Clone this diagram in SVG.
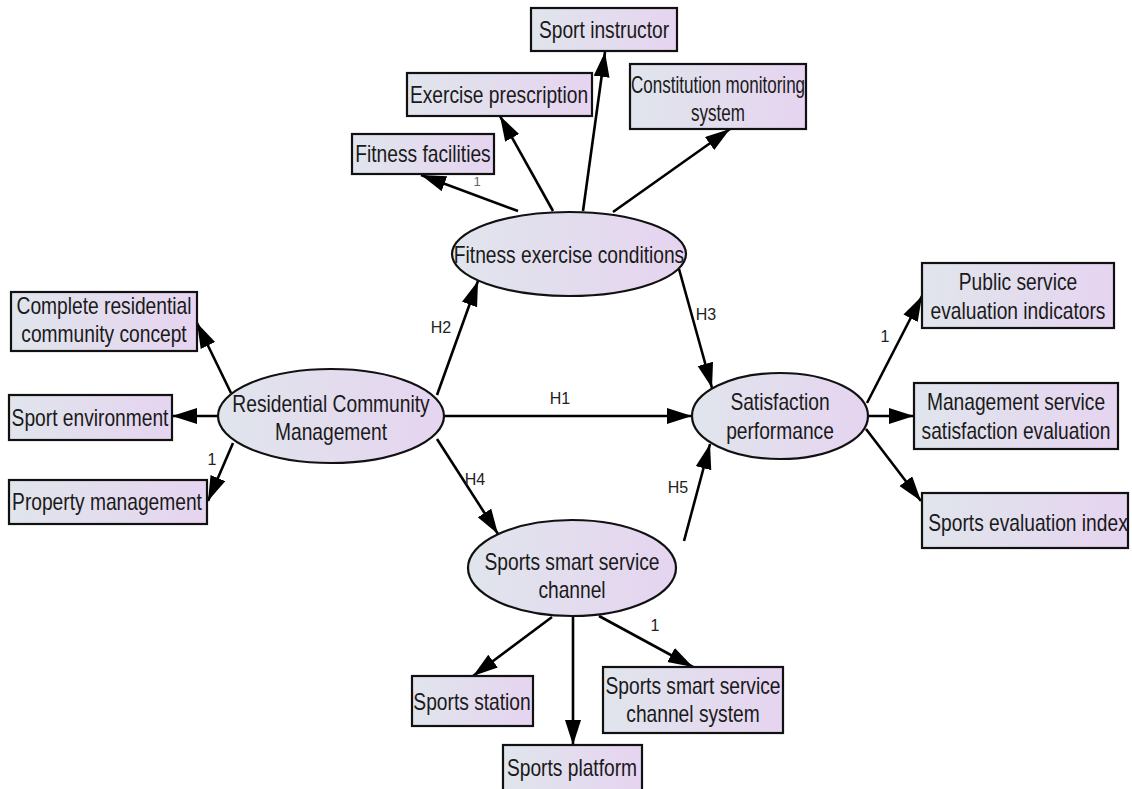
<svg xmlns="http://www.w3.org/2000/svg" width="1132" height="789" viewBox="0 0 1132 789">
<style>
.box{fill:url(#g);stroke:#111;stroke-width:2.2}
.ell{fill:url(#g);stroke:#111;stroke-width:2.2}
.t{font-family:"Liberation Sans",Arial,sans-serif;font-size:24px;fill:#1a1a1a;text-anchor:middle}
.lbl{font-family:"Liberation Sans",Arial,sans-serif;font-size:16px;fill:#222;text-anchor:middle}
.c line{stroke:#000;stroke-width:2.6;marker-end:url(#ah)}
</style>
<defs>
<linearGradient id="g" x1="0" y1="0" x2="1" y2="0">
<stop offset="0" stop-color="#e0e5ec"/>
<stop offset="1" stop-color="#e6d4f0"/>
</linearGradient>
<marker id="ah" markerUnits="userSpaceOnUse" markerWidth="28" markerHeight="18" refX="25" refY="8" orient="auto">
<path d="M0,0 L25,8 L0,16 z" fill="#000"/>
</marker>
</defs>
<rect width="1132" height="789" fill="#fff"/>
<g class="c" id="connectors">
<line x1="518" y1="211" x2="421" y2="175"/>
<line x1="553" y1="211" x2="500" y2="116"/>
<line x1="583" y1="211" x2="605" y2="52"/>
<line x1="613" y1="212" x2="730" y2="129"/>
<line x1="679" y1="269" x2="712" y2="388"/>
<line x1="445" y1="416" x2="692" y2="416"/>
<line x1="437" y1="395" x2="478" y2="281"/>
<line x1="437" y1="439" x2="498" y2="534"/>
<line x1="684" y1="541" x2="710" y2="444"/>
<line x1="231" y1="393" x2="197" y2="323"/>
<line x1="218" y1="416" x2="172" y2="416"/>
<line x1="233" y1="443" x2="208" y2="501"/>
<line x1="867" y1="403" x2="922" y2="296"/>
<line x1="868" y1="416" x2="914" y2="416"/>
<line x1="866" y1="429" x2="921" y2="501"/>
<line x1="552" y1="617" x2="473" y2="676"/>
<line x1="573" y1="617" x2="573" y2="745"/>
<line x1="599" y1="616" x2="693" y2="667"/>
</g>
<g id="labels">
<text class="lbl" x="560" y="404">H1</text>
<text class="lbl" x="441" y="333">H2</text>
<text class="lbl" x="706" y="320">H3</text>
<text class="lbl" x="475" y="485">H4</text>
<text class="lbl" x="678" y="493">H5</text>
<text class="lbl" x="477" y="186" style="fill:#666;font-size:13px">1</text>
<text class="lbl" x="885" y="342">1</text>
<text class="lbl" x="212" y="465">1</text>
<text class="lbl" x="655" y="631">1</text>
</g>
<g id="n-sport-instructor"><rect class="box" x="531" y="8" width="146" height="43"/><text class="t" transform="translate(604,38) scale(0.8,1)">Sport instructor</text></g>
<g id="n-exercise-prescription"><rect class="box" x="407" y="73" width="185" height="43"/><text class="t" transform="translate(499,103) scale(0.8,1)">Exercise prescription</text></g>
<g id="n-fitness-facilities"><rect class="box" x="352" y="134" width="142" height="40"/><text class="t" transform="translate(423,162) scale(0.8,1)">Fitness facilities</text></g>
<g id="n-constitution"><rect class="box" x="630" y="64" width="176" height="65"/><text class="t" transform="translate(718,93) scale(0.71,1)"><tspan x="0" dy="0">Constitution monitoring</tspan><tspan x="0" dy="28">system</tspan></text></g>
<g id="n-fitness-conditions"><ellipse class="ell" cx="569" cy="254" rx="117" ry="42"/><text class="t" transform="translate(569,263) scale(0.8,1)">Fitness exercise conditions</text></g>
<g id="n-complete-residential"><rect class="box" x="11" y="292" width="186" height="59"/><text class="t" transform="translate(104,314) scale(0.8,1)"><tspan x="0" dy="0">Complete residential</tspan><tspan x="0" dy="28">community concept</tspan></text></g>
<g id="n-sport-environment"><rect class="box" x="9" y="395" width="163" height="45"/><text class="t" transform="translate(90,426) scale(0.8,1)">Sport environment</text></g>
<g id="n-property-management"><rect class="box" x="9" y="480" width="198" height="44"/><text class="t" transform="translate(107,510) scale(0.8,1)">Property management</text></g>
<g id="n-rcm"><ellipse class="ell" cx="331" cy="416" rx="113" ry="47"/><text class="t" transform="translate(331,412) scale(0.8,1)"><tspan x="0" dy="0">Residential Community</tspan><tspan x="0" dy="28">Management</tspan></text></g>
<g id="n-satisfaction"><ellipse class="ell" cx="780" cy="416" rx="88" ry="43"/><text class="t" transform="translate(780,410) scale(0.8,1)"><tspan x="0" dy="0">Satisfaction</tspan><tspan x="0" dy="29">performance</tspan></text></g>
<g id="n-public-service"><rect class="box" x="922" y="263" width="192" height="65"/><text class="t" transform="translate(1018,290) scale(0.8,1)"><tspan x="0" dy="0">Public service</tspan><tspan x="0" dy="29">evaluation indicators</tspan></text></g>
<g id="n-management-service"><rect class="box" x="914" y="383" width="204" height="66"/><text class="t" transform="translate(1016,410) scale(0.8,1)"><tspan x="0" dy="0">Management service</tspan><tspan x="0" dy="29">satisfaction evaluation</tspan></text></g>
<g id="n-sports-eval"><rect class="box" x="922" y="493" width="206" height="55"/><text class="t" transform="translate(1028,531) scale(0.8,1)">Sports evaluation index</text></g>
<g id="n-smart-channel"><ellipse class="ell" cx="572" cy="568" rx="104" ry="48"/><text class="t" transform="translate(572,570) scale(0.8,1)"><tspan x="0" dy="0">Sports smart service</tspan><tspan x="0" dy="28">channel</tspan></text></g>
<g id="n-sports-station"><rect class="box" x="412" y="676" width="121" height="50"/><text class="t" transform="translate(472,710) scale(0.8,1)">Sports station</text></g>
<g id="n-sports-platform"><rect class="box" x="503" y="745" width="139" height="48"/><text class="t" transform="translate(572,776) scale(0.8,1)">Sports platform</text></g>
<g id="n-smart-system"><rect class="box" x="603" y="667" width="180" height="66"/><text class="t" transform="translate(693,694) scale(0.8,1)"><tspan x="0" dy="0">Sports smart service</tspan><tspan x="0" dy="28">channel system</tspan></text></g>
</svg>
